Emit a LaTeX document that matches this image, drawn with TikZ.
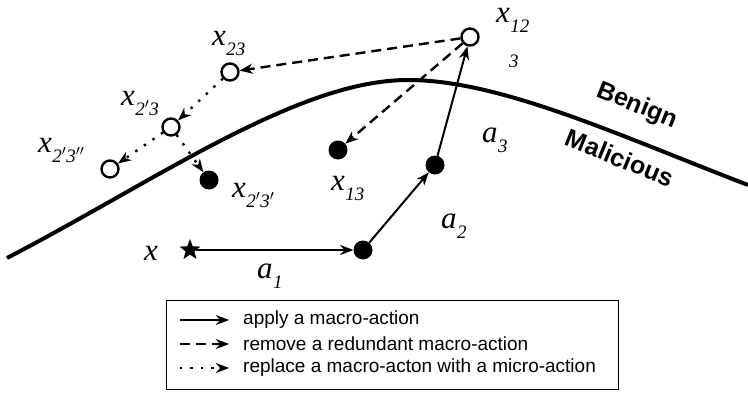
\documentclass[tikz,border=0pt]{standalone}
\usepackage{fontspec}
\setmainfont{Liberation Serif}
\setsansfont{Liberation Sans}
\usetikzlibrary{arrows.meta,shapes.geometric}
\newcommand{\lbl}[2]{\textit{#1}\kern0.5pt\raisebox{-10pt}{\fontsize{19}{19}\selectfont\textit{#2}}}
\tikzset{
  opennode/.style={circle,draw,line width=2.4pt,fill=white,minimum size=17pt,inner sep=0pt},
  fillnode/.style={circle,fill,minimum size=19pt,inner sep=0pt},
  starnode/.style={star,star points=5,star point ratio=2.4,fill,minimum size=22pt,inner sep=0pt},
  lab/.style={font=\fontsize{31}{31}\selectfont,inner sep=0pt,anchor=base west,text height=15pt,text depth=14pt},
  tip/.style={-{Stealth[length=13pt,width=10pt,inset=4pt]}},
  applyarrow/.style={tip,line width=2pt},
  removearrow/.style={tip,line width=2.4pt,dash pattern=on 10pt off 6pt},
  replacearrow/.style={tip,line width=2.4pt,dash pattern=on 2.4pt off 8pt},
  region/.style={font=\sffamily\bfseries\fontsize{25}{25}\selectfont,rotate=-22,inner sep=0pt},
  legtext/.style={font=\sffamily\fontsize{19}{19}\selectfont,anchor=west,inner sep=0pt},
}
\begin{document}
\begin{tikzpicture}[x=1pt,y=-1pt]
\useasboundingbox (0,0) rectangle (748,397);
% boundary
\draw[line width=4pt] (7,258) .. controls (157,180) and (298,80) .. (408,80)
  .. controls (500,80) and (618,135) .. (748,185);
\node[region] (benign) at (637,106) {Benign};
\node[region] (malicious) at (620,158) {Malicious};
% points
\node[starnode] (x) at (190,250) {};
\node[fillnode] (pA) at (363,250) {};
\node[fillnode] (pB) at (435,165) {};
\node[opennode] (x12) at (470,37) {};
\node[fillnode] (x13) at (338,150) {};
\node[opennode] (x23) at (230,72) {};
\node[opennode] (x2p3) at (171,127) {};
\node[opennode] (x2p3pp) at (110,169) {};
\node[fillnode] (x2p3p) at (209,180) {};
% labels
\node[lab] (lx) at (144,260) {\textit{x}};
\node[lab] (lx12) at (496,22) {\lbl{x}{12}};
\node[lab,font=\fontsize{19}{19}\selectfont,text height=12pt,text depth=0pt] (lx12b) at (509,67) {\textit{3}};
\node[lab] (lx13) at (331,190) {\lbl{x}{13}};
\node[lab] (lx23) at (212,45) {\lbl{x}{23}};
\node[lab] (lx2p3) at (121,105) {\lbl{x}{2$'$3}};
\node[lab] (lx2p3pp) at (38,152) {\lbl{x}{2$'$3$''$}};
\node[lab] (lx2p3p) at (232,197) {\lbl{x}{2$'$3$'$}};
\node[lab] (la1) at (257,278) {\lbl{a}{1}};
\node[lab] (la2) at (441,228) {\lbl{a}{2}};
\node[lab] (la3) at (482,142) {\lbl{a}{3}};
% connectors
\draw[applyarrow] (x) -- (pA);
\draw[applyarrow] (pA) -- (pB);
\draw[applyarrow] (pB) -- (x12);
\draw[removearrow] (x12) -- (x23);
\draw[removearrow] (x12) -- (x13);
\draw[replacearrow] (x23) -- (x2p3);
\draw[replacearrow] (x2p3) -- (x2p3pp);
\draw[replacearrow] (x2p3) -- (x2p3p);
% legend
\node[draw,line width=1.2pt,minimum width=452pt,minimum height=89pt,anchor=north west,inner sep=0pt] (legend) at (166,300) {};
\coordinate (l1s) at (180,320); \coordinate (l1e) at (229,320);
\coordinate (l2s) at (180,344); \coordinate (l2e) at (229,344);
\coordinate (l3s) at (180,368); \coordinate (l3e) at (229,368);
\draw[applyarrow] (l1s) -- (l1e);
\draw[removearrow] (l2s) -- (l2e);
\draw[replacearrow] (l3s) -- (l3e);
\node[legtext] (t1) at (243,320) {apply a macro-action};
\node[legtext] (t2) at (243,344) {remove a redundant macro-action};
\node[legtext] (t3) at (243,368) {replace a macro-acton with a micro-action};
\end{tikzpicture}
\end{document}
